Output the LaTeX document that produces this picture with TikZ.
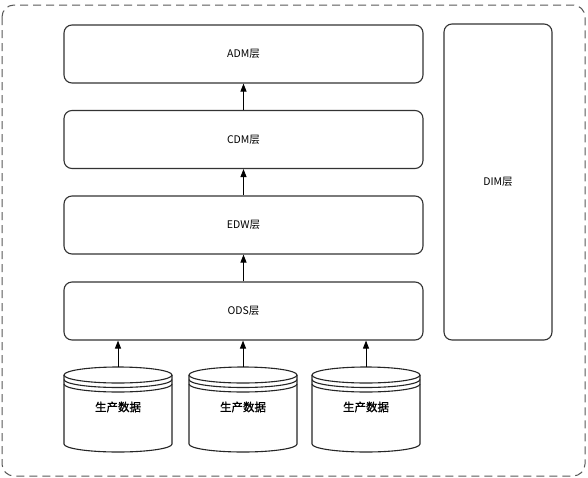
\documentclass[tikz,border=0pt]{standalone}
\usepackage{fontspec}
\newfontfamily\cjk{Noto Sans CJK SC}
\newfontfamily\cjkb[FakeBold=1.2]{Noto Sans CJK SC}
\usetikzlibrary{arrows.meta}
\tikzset{
  layerbox/.style={draw=black!80,line width=1.1pt,rounded corners=8pt,fill=white,inner sep=0pt,font=\cjk\fontsize{10.5}{12}\selectfont},
  cylline/.style={draw=black!85,line width=1.1pt},
  cyltext/.style={inner sep=0pt,font=\cjkb\fontsize{11.5}{13}\selectfont},
  flow/.style={draw=black,line width=0.9pt,-{Triangle[length=8pt,width=6pt]}},
  outer/.style={draw=black!65,line width=1pt,dash pattern=on 8pt off 5pt,rounded corners=12pt}
}
\newcommand\dbcyl[3]{%
  \pgfmathsetmacro\cx{(#2+#3)/2}%
  \pgfmathsetmacro\rx{(#3-#2)/2}%
  \fill[white] (#2,-375) -- (#2,-444) arc[start angle=180,end angle=360,x radius=\rx,y radius=8] -- (#3,-375) arc[start angle=0,end angle=180,x radius=\rx,y radius=8] -- cycle;
  \draw[cylline] (#2,-375) -- (#2,-444) arc[start angle=180,end angle=360,x radius=\rx,y radius=8] -- (#3,-375);
  \draw[cylline] (\cx,-375) ellipse[x radius=\rx,y radius=8];
  \draw[cylline] (#2,-379.5) arc[start angle=180,end angle=360,x radius=\rx,y radius=8];
  \draw[cylline] (#2,-384) arc[start angle=180,end angle=360,x radius=\rx,y radius=8];
  \node[cyltext] (#1) at (\cx,-407) {生产数据};
  \coordinate (#1top) at (\cx,-367);
}
\begin{document}
\begin{tikzpicture}[x=1pt,y=1pt]
\useasboundingbox (0,0) rectangle (588,-477);
\fill[white] (0,0) rectangle (588,-477);
\draw[outer] (2,-5) rectangle (585,-476);

\node[layerbox,minimum width=359pt,minimum height=58pt] (adm) at (243.5,-54) {ADM层};
\node[layerbox,minimum width=359pt,minimum height=58pt] (cdm) at (243.5,-139.5) {CDM层};
\node[layerbox,minimum width=359pt,minimum height=58pt] (edw) at (243.5,-225) {EDW层};
\node[layerbox,minimum width=359pt,minimum height=58pt] (ods) at (243.5,-311) {ODS层};
\node[layerbox,minimum width=108pt,minimum height=316pt] (dim) at (498,-182) {DIM层};

\draw[flow] (cdm.north) -- (adm.south);
\draw[flow] (edw.north) -- (cdm.south);
\draw[flow] (ods.north) -- (edw.south);

\dbcyl{db1}{64}{172}
\dbcyl{db2}{189}{297}
\dbcyl{db3}{312}{420}

\draw[flow] (db1top) -- (db1top |- ods.south);
\draw[flow] (db2top) -- (db2top |- ods.south);
\draw[flow] (db3top) -- (db3top |- ods.south);
\end{tikzpicture}
\end{document}
